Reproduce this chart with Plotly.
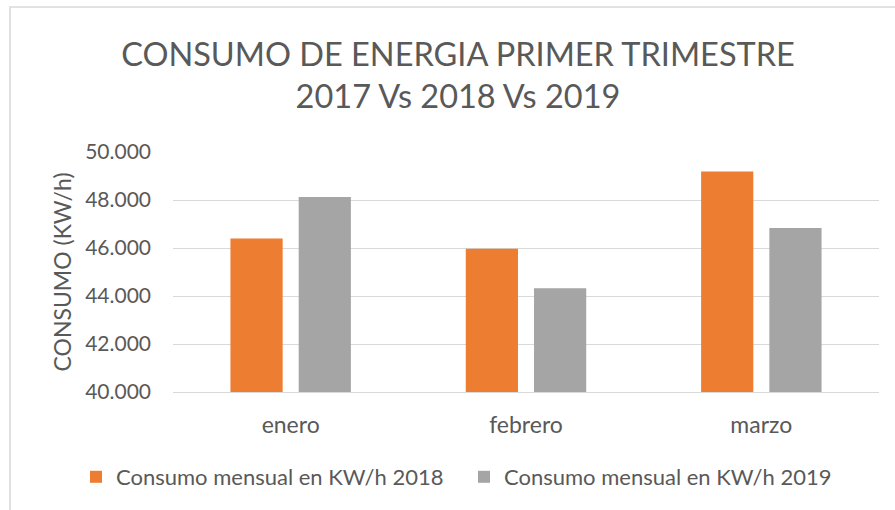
import plotly.graph_objects as go

# Data
months = ["enero", "febrero", "marzo"]
consumo_2018 = [46400, 45970, 49190]
consumo_2019 = [48120, 44320, 46830]
series_names = ["Consumo mensual en KW/h 2018", "Consumo mensual en KW/h 2019"]
y_ticks = [40000, 42000, 44000, 46000, 48000, 50000]

ORANGE = "#ED7D31"
GRAY = "#A5A5A5"
TEXT = "#595959"
GRID = "#D9D9D9"
FONT = "Lato, Open Sans, sans-serif"

W, H = 895, 510
L, R, T, B = 173, 16, 152, 118

fig = go.Figure()
fig.add_trace(go.Bar(x=months, y=consumo_2018, name=series_names[0],
                     marker=dict(color=ORANGE, line=dict(width=0))))
fig.add_trace(go.Bar(x=months, y=consumo_2019, name=series_names[1],
                     marker=dict(color=GRAY, line=dict(width=0))))

pw = W - L - R
ph = H - T - B

def px_x(px):
    return (px - L) / pw

def px_y(py):
    return (H - B - py) / ph

fig.update_layout(
    width=W, height=H,
    margin=dict(l=L, r=R, t=T, b=B),
    paper_bgcolor="white", plot_bgcolor="white",
    separators=",.",
    barmode="group", bargap=0.42, bargroupgap=0.235,
    font=dict(family=FONT, color=TEXT, size=21),
    title=dict(text="CONSUMO DE ENERGIA PRIMER TRIMESTRE<br>2017 Vs 2018 Vs 2019",
               font=dict(family=FONT, size=32.5, color=TEXT),
               x=458 / W, xanchor="center", xref="container",
               y=1 - 66 / H, yanchor="top", yref="container"),
    legend=dict(orientation="h", x=px_x(76), xanchor="left",
                y=px_y(477), yanchor="middle",
                entrywidth=343, entrywidthmode="pixels",
                font=dict(family=FONT, size=22, color=TEXT),
                bgcolor="rgba(0,0,0,0)"),
    xaxis=dict(showgrid=False, showline=True, linecolor=GRID, linewidth=1,
               ticks="", tickfont=dict(family=FONT, size=23, color=TEXT),
               ticklabelstandoff=12),
    yaxis=dict(range=[40000, 50000], tickvals=y_ticks, tickformat=",.0f",
               showgrid=True, gridcolor=GRID, gridwidth=1.3,
               zeroline=False, showline=False, ticks="",
               tickfont=dict(family=FONT, size=21, color=TEXT),
               ticklabelstandoff=21,
               title=dict(text="CONSUMO (KW/h)",
                          font=dict(family=FONT, size=23, color=TEXT),
                          standoff=7)),
    shapes=[dict(type="rect", xref="paper", yref="paper",
                 x0=px_x(10), x1=px_x(905), y0=px_y(515), y1=px_y(7),
                 line=dict(color="#D9D9D9", width=1.6), fillcolor="rgba(0,0,0,0)",
                 layer="below")],
)

fig.write_html("out.html", config={"displayModeBar": False},
               post_script="document.body.style.margin='0px';")
